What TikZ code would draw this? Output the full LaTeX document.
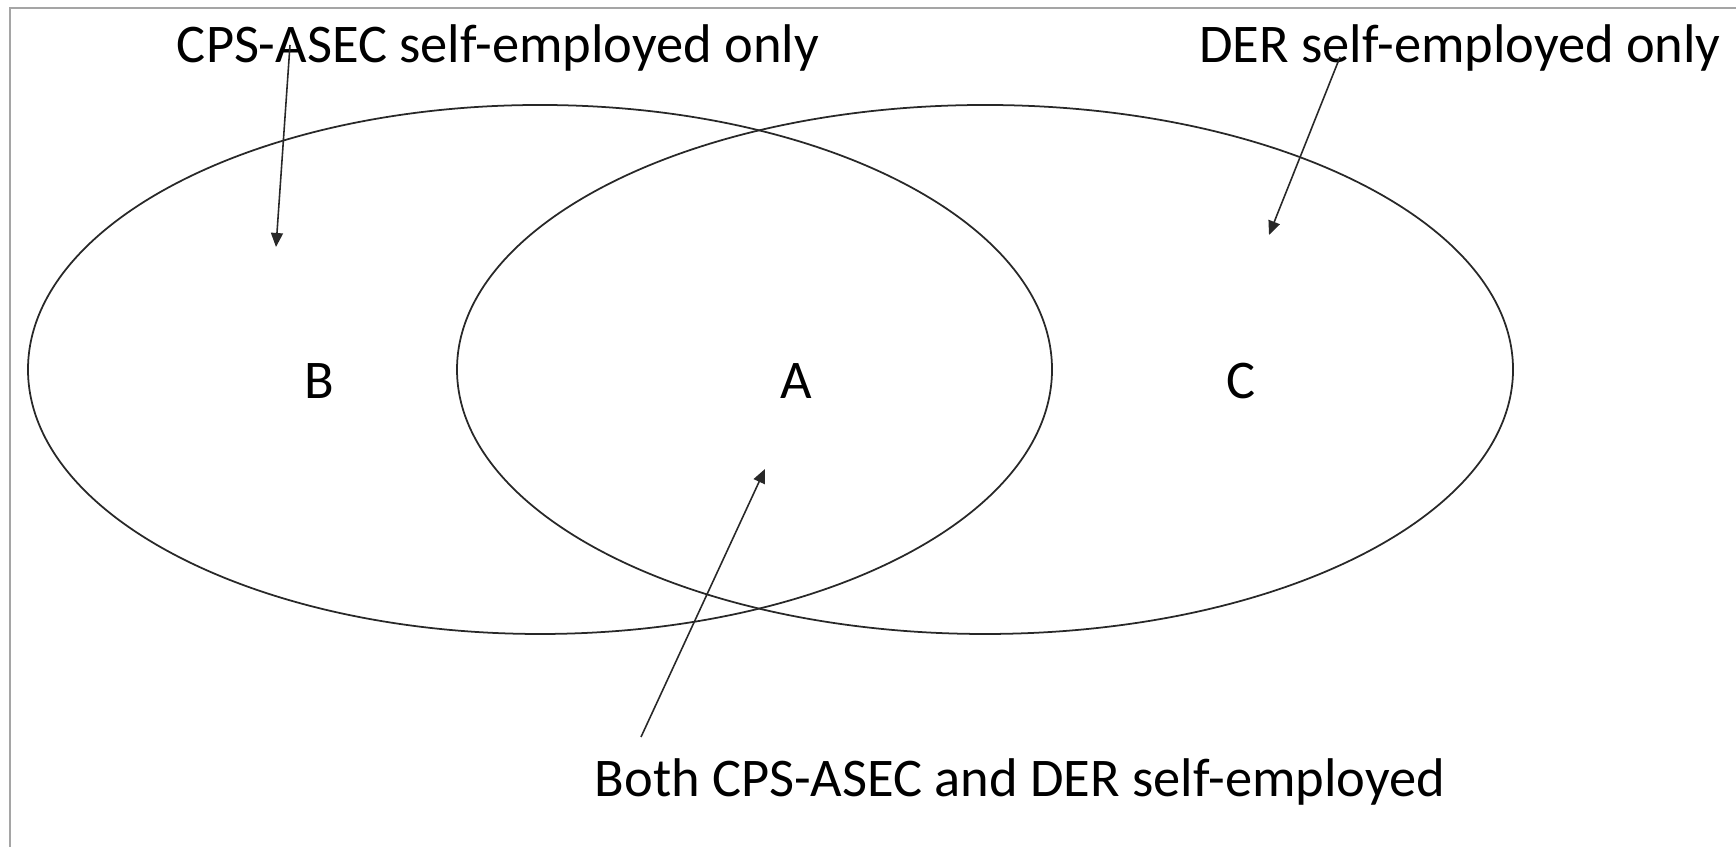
\documentclass[tikz,border=0pt]{standalone}
\usepackage{fontspec}
\setmainfont{Carlito}
\usepackage{tikz}
\usetikzlibrary{arrows.meta,shapes.geometric}
\definecolor{framegray}{RGB}{165,165,165}
\definecolor{vennline}{RGB}{40,40,40}

\begin{document}
\begin{tikzpicture}[
  setshape/.style={ellipse,draw=vennline,line width=0.5pt,inner sep=0pt},
  region/.style={font=\fontsize{15.5}{18}\selectfont,anchor=base,inner sep=0pt},
  pointer/.style={-{Triangle[length=1.4mm,width=1.2mm]},line width=0.45pt,draw=vennline}]
  \useasboundingbox (0,0) rectangle (17.36,8.47);
  % frame of the figure
  \draw[framegray,line width=0.6pt] (0.10,0) -- (0.10,8.39) -- (17.36,8.39);
  % the two sets
  \node[setshape,minimum width=10.24cm,minimum height=5.29cm] (cps) at (5.40,4.775) {};
  \node[setshape,minimum width=10.56cm,minimum height=5.29cm] (der) at (9.85,4.775) {};
  \node[region] (regB) at (3.19,4.48) {B};
  \node[region] (regA) at (7.96,4.48) {A};
  \node[region] (regC) at (12.41,4.48) {C};
  % captions
  \node[region] (cpsonly) at (4.98,7.84) {CPS-ASEC self-employed only};
  \node[region] (deronly) at (14.60,7.84) {DER self-employed only};
  \node[region] (both) at (10.20,0.50) {Both CPS-ASEC and DER self-employed};
  \coordinate (cpstail) at (2.90,8.02);
  \coordinate (cpstip) at (2.76,6.00);
  \coordinate (dertail) at (13.40,7.90);
  \coordinate (dertip) at (12.69,6.12);
  \coordinate (bothtail) at (6.41,1.10);
  \coordinate (bothtip) at (7.65,3.78);
  \draw[pointer] (cpstail) -- (cpstip);
  \draw[pointer] (dertail) -- (dertip);
  \draw[pointer] (bothtail) -- (bothtip);
\end{tikzpicture}
\end{document}
